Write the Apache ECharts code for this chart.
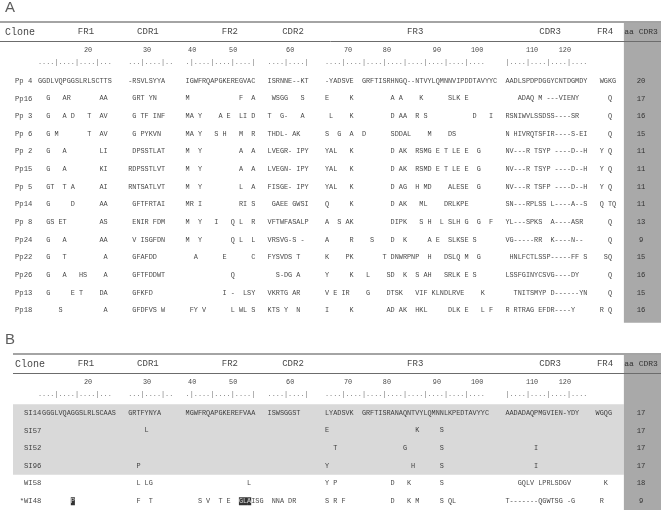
<!DOCTYPE html>
<html>
<head>
<meta charset="utf-8">
<script src="https://cdn.jsdelivr.net/npm/echarts@6/dist/echarts.min.js"></script>
<style>
  html, body { margin: 0; padding: 0; background: #fff; }
  #chart { width: 661px; height: 515px; }
</style>
</head>
<body>
<div id="chart"></div>
<script>
// ---- panel A : Pp clones, one string per region (space = same as Pp 4) ----
const clonesA = ['Pp 4', 'Pp16', 'Pp 3', 'Pp 6', 'Pp 2', 'Pp15', 'Pp 5', 'Pp14', 'Pp 8', 'Pp24', 'Pp22', 'Pp26', 'Pp13', 'Pp18'];
const fr1A = [
  'GGDLVQPGGSLRLSCTTS',
  '  G   AR       AA',
  '  G   A D   T  AV',
  '  G M       T  AV',
  '  G   A        LI',
  '  G   A        KI',
  '  GT  T A      AI',
  '  G     D      AA',
  '  GS ET        AS',
  '  G   A        AA',
  '  G   T         A',
  '  G   A   HS    A',
  '  G     E T    DA',
  '     S          A'
];
const cdr1A = [
  '-RSVLSYYA', ' GRT YN', ' G TF INF', ' G PYKVN', ' DPSSTLAT', 'RDPSSTLVT', 'RNTSATLVT',
  ' GFTFRTAI', ' ENIR FDM', ' V ISGFDN', ' GFAFDD', ' GFTFDDWT', ' GFKFD', ' GFDFVS W'
];
const fr2A = [
  'IGWFRQAPGKEREGVAC',
  'M            F  A',
  'MA Y    A E  LI D',
  'MA Y   S H   M  R',
  'M  Y         A  A',
  'M  Y         A  A',
  'M  Y         L  A',
  'MR I         RI S',
  'M  Y   I   Q L  R',
  'M  Y       Q L  L',
  '  A      E      C',
  '           Q',
  '         I -  LSY',
  ' FY V      L WL S'
];
const cdr2A = [
  'ISRNNE--KT', ' WSGG   S', 'T  G-   A', 'THDL- AK', 'LVEGR- IPY', 'LVEGN- IPY', 'FISGE- IPY',
  ' GAEE GWSI', 'VFTWFASALP', 'VRSVG-S -', 'FYSVDS T', '  S-DG A', 'VKRTG AR', 'KTS Y  N'
];
const fr3A = [
  '-YADSVE  GRFTISRHNGQ--NTVYLQMNNVIPDDTAVYYC',
  'E     K         A A    K      SLK E',
  ' L    K         D AA  R S           D   I',
  'S  G  A  D      SDDAL    M    DS',
  'YAL   K         D AK  RSMG E T LE E  G',
  'YAL   K         D AK  RSMD E T LE E  G',
  'YAL   K         D AG  H MD    ALESE  G',
  'Q     K         D AK   ML    DRLKPE',
  'A  S AK         DIPK   S H  L SLH G  G  F',
  'A     R    S    D  K     A E  SLKSE S',
  'K    PK       T DNWRPNP  H   DSLQ M  G',
  'Y     K   L    SD  K  S AH   SRLK E S',
  'V E IR    G    DTSK   VIF KLNDLRVE    K',
  'I     K        AD AK  HKL     DLK E   L F'
];
const cdr3A = [
  'AADLSPDPDGGYCNTDGMDY',
  '   ADAQ M ---VIENY',
  'RSNIWVLSSDSS----SR',
  'N HIVRQTSFIR----S-EI',
  'NV---R TSYP ----D--H',
  'NV---R TSYP ----D--H',
  'NV---R TSFP ----D--H',
  'SN---RPLSS L----A--S',
  'YL---SPKS  A----ASR',
  'VG-----RR  K----N--',
  ' HNLFCTLSSP-----FF S',
  'LSSFGINYCSVG----DY',
  '  TNITSMYP D------YN',
  'R RTRAG EFDR----Y'
];
const fr4A = ['WGKG', '  Q', '  Q', '  Q', 'Y Q', 'Y Q', 'Y Q', 'Q TQ', '  Q', '  Q', ' SQ', '  Q', '  Q', 'R Q'];
const aaA = [20, 17, 16, 15, 11, 11, 11, 11, 13, 9, 15, 16, 15, 16];

// ---- panel B : SI / WI clones (space = same as SI14) ----
const clonesB = ['SI14', 'SI57', 'SI52', 'SI96', 'WI58', '*WI48'];
const fr1B = [' GGGLVQAGGSLRLSCAAS', '', '', '', '', '        P'];
const cdr1B = ['GRTFYNYA', '    L', '', '  P', '  L LG', '  F  T'];
const fr2B = ['MGWFRQAPGKEREFVAA', '', '', '', '               L', '   S V  T E  GLAISG'];
const cdr2B = ['ISWSGGST', '', '', '', '', ' NNA DR'];
const fr3B = [
  'LYADSVK  GRFTISRANAQNTVYLQMNNLKPEDTAVYYC',
  'E                     K     S',
  '  T                G        S',
  'Y                    H      S',
  'Y P             D   K       S',
  'S R F           D   K M     S QL'
];
const cdr3B = ['AADADAQPMGVIEN-YDY', '', '       I', '       I', '   GQLV LPRLSDGV', 'T-------QGWTSG -G'];
const fr4B = ['WGQG', '', '', '', '  K', ' R'];
const aaB = [17, 17, 17, 17, 18, 9];
// residues printed white on black in *WI48: [region, index in region string]
const boxedB = [[0, 8], [2, 13], [2, 14], [2, 15]];

const regionNames = ['FR1', 'CDR1', 'FR2', 'CDR2', 'FR3', 'CDR3', 'FR4'];
const rulerBlocks = ['....|....|....|...', '...|....|..', '.|....|....|....|', '....|....|',
  '....|....|....|....|....|....|....|....', '|....|....|....|....'];
const numberLabels = ['20', '30', '40', '50', '60', '70', '80', '90', '100', '110', '120'];

// ---- layout ----
const W = 661;
const CH = 4.1;        // px per alignment column
const X0 = 40.05;      // px centre of column 0
const ROW = 17.65;     // px between clone rows
const xMin = -X0 / CH, xMax = (W - X0) / CH;
const startA = [0, 22, 36, 56, 70, 114, 137];
const startB = [0, 22, 36, 56, 70, 114, 136];
const rulerStart = [0, 22, 36, 56, 70, 114];
const headerCol = [11.2, 26.3, 46.3, 61.7, 91.5, 124.4, 137.8];
const numberCol = [11.7, 26.1, 37.1, 47.1, 61, 75.1, 84.6, 96.8, 106.6, 120, 128];
const aaCol = 146.6, grayFrom = 142.4;
const yLabel = -4.14, yTop = -3.37, yHead = -2.78, yLine2 = -2.27, yNum = -1.76, yRuler = -1.08;
const MONO = 'Liberation Mono';

const panels = [
  { name: 'A', row0: 81, rows: [-4.5, 14.5], clones: clonesA, regions: [fr1A, cdr1A, fr2A, cdr2A, fr3A, cdr3A, fr4A],
    starts: startA, aa: aaA, boxed: [], lineFrom: xMin, cloneX: -6.11, cloneAlign: 'left', cloneHeadX: -8.55,
    aaBottom: 13.7, band: null },
  { name: 'B', row0: 413, rows: [-4.5, 5.5], clones: clonesB, regions: [fr1B, cdr1B, fr2B, cdr2B, fr3B, cdr3B, fr4B],
    starts: startB, aa: aaB, boxed: boxedB.map(b => [5, b[0], b[1]]), lineFrom: -6.6, cloneX: 0.3, cloneAlign: 'right',
    cloneHeadX: -6.11, aaBottom: 5.5, band: [-0.5, 3.5] }
];

const chart = echarts.init(document.getElementById('chart'), null, { renderer: 'canvas' });

const series = [];
panels.forEach((p, gi) => {
  const isBoxed = (r, b, i) => p.boxed.some(k => k[0] === r && k[1] === b && k[2] === i);
  const plain = [], boxed = [];
  p.regions.forEach((rows, b) => rows.forEach((s, r) => {
    [...s].forEach((ch, i) => {
      if (ch === ' ') return;
      const item = { name: ch, value: [p.starts[b] + i, r] };
      (isBoxed(r, b, i) ? boxed : plain).push(item);
    });
  }));
  const ruler = [];
  rulerBlocks.forEach((s, b) => [...s].forEach((ch, i) => ruler.push({ name: ch, value: [rulerStart[b] + i, yRuler] })));

  const areas = [[{ coord: [grayFrom, yTop], itemStyle: { color: '#a9a9a9' } }, { coord: [xMax, p.aaBottom] }]];
  if (p.band) areas.unshift([{ coord: [p.lineFrom, p.band[0]], itemStyle: { color: '#d9d9d9' } }, { coord: [grayFrom, p.band[1]] }]);

  const base = { type: 'scatter', xAxisIndex: gi, yAxisIndex: gi, symbolSize: 0, silent: true, animation: false };

  series.push(Object.assign({}, base, {
    z: 1, data: [[xMin, 0]],
    markArea: { silent: true, data: areas }
  }));
  series.push(Object.assign({}, base, {
    z: 2, data: [[xMin, 0]],
    markLine: {
      silent: true, symbol: ['none', 'none'], label: { show: false }, animation: false,
      data: [
        [{ coord: [p.lineFrom, yTop], lineStyle: { width: 2, color: '#a4a4a4', type: 'solid' } }, { coord: [xMax, yTop] }],
        [{ coord: [p.lineFrom, yLine2], lineStyle: { width: 1, color: '#6c6c6c', type: 'solid' } }, { coord: [xMax, yLine2] }]
      ]
    }
  }));
  // residues
  series.push(Object.assign({}, base, {
    z: 3, data: plain,
    label: { show: true, position: 'inside', formatter: '{b}', fontFamily: MONO, fontSize: 6.83, color: '#111' }
  }));
  if (boxed.length) series.push(Object.assign({}, base, {
    z: 4, data: boxed,
    label: { show: true, position: 'inside', formatter: '{b}', fontFamily: MONO, fontSize: 6.83, color: '#fff',
      backgroundColor: '#000', padding: [1, 0, 0, 0] }
  }));
  // ruler
  series.push(Object.assign({}, base, {
    z: 3, data: ruler,
    label: { show: true, position: 'inside', formatter: '{b}', fontFamily: MONO, fontSize: 6.83, color: '#555' }
  }));
  // clone names and aa CDR3 length
  series.push(Object.assign({}, base, {
    z: 3, data: p.clones.map((c, r) => ({ name: c, value: [p.cloneX, r] })),
    label: { show: true, position: 'inside', align: p.cloneAlign, formatter: '{b}', fontFamily: MONO, fontSize: 7.2, color: '#111' }
  }));
  series.push(Object.assign({}, base, {
    z: 3, data: p.aa.map((a, r) => ({ name: String(a), value: [aaCol, r] })),
    label: { show: true, position: 'inside', formatter: '{b}', fontFamily: MONO, fontSize: 7.2, color: '#111' }
  }));
  // headers
  const head = [
    { name: p.name, value: [-8.55, yLabel], label: { fontFamily: 'Liberation Sans', fontSize: 15, align: 'left', color: '#333' } },
    { name: 'Clone', value: [p.cloneHeadX, yHead], label: { fontSize: 10, align: 'left' } },
    { name: 'aa CDR3', value: [aaCol, yHead], label: { fontSize: 8 } }
  ];
  regionNames.forEach((n, k) => head.push({ name: n, value: [headerCol[k], yHead], label: { fontSize: 9 } }));
  numberLabels.forEach((n, k) => head.push({ name: n, value: [numberCol[k], yNum], label: { fontSize: 6.8 } }));
  series.push(Object.assign({}, base, {
    z: 3, data: head,
    label: { show: true, position: 'inside', formatter: '{b}', fontFamily: MONO, color: '#111' }
  }));
});

chart.setOption({
  animation: false,
  grid: panels.map(p => ({ left: 0, width: W, top: p.row0 + p.rows[0] * ROW, height: (p.rows[1] - p.rows[0]) * ROW })),
  xAxis: panels.map((p, i) => ({ type: 'value', gridIndex: i, min: xMin, max: xMax, show: false })),
  yAxis: panels.map((p, i) => ({ type: 'value', gridIndex: i, min: p.rows[0], max: p.rows[1], inverse: true, show: false })),
  series: series
});
</script>
</body>
</html>
